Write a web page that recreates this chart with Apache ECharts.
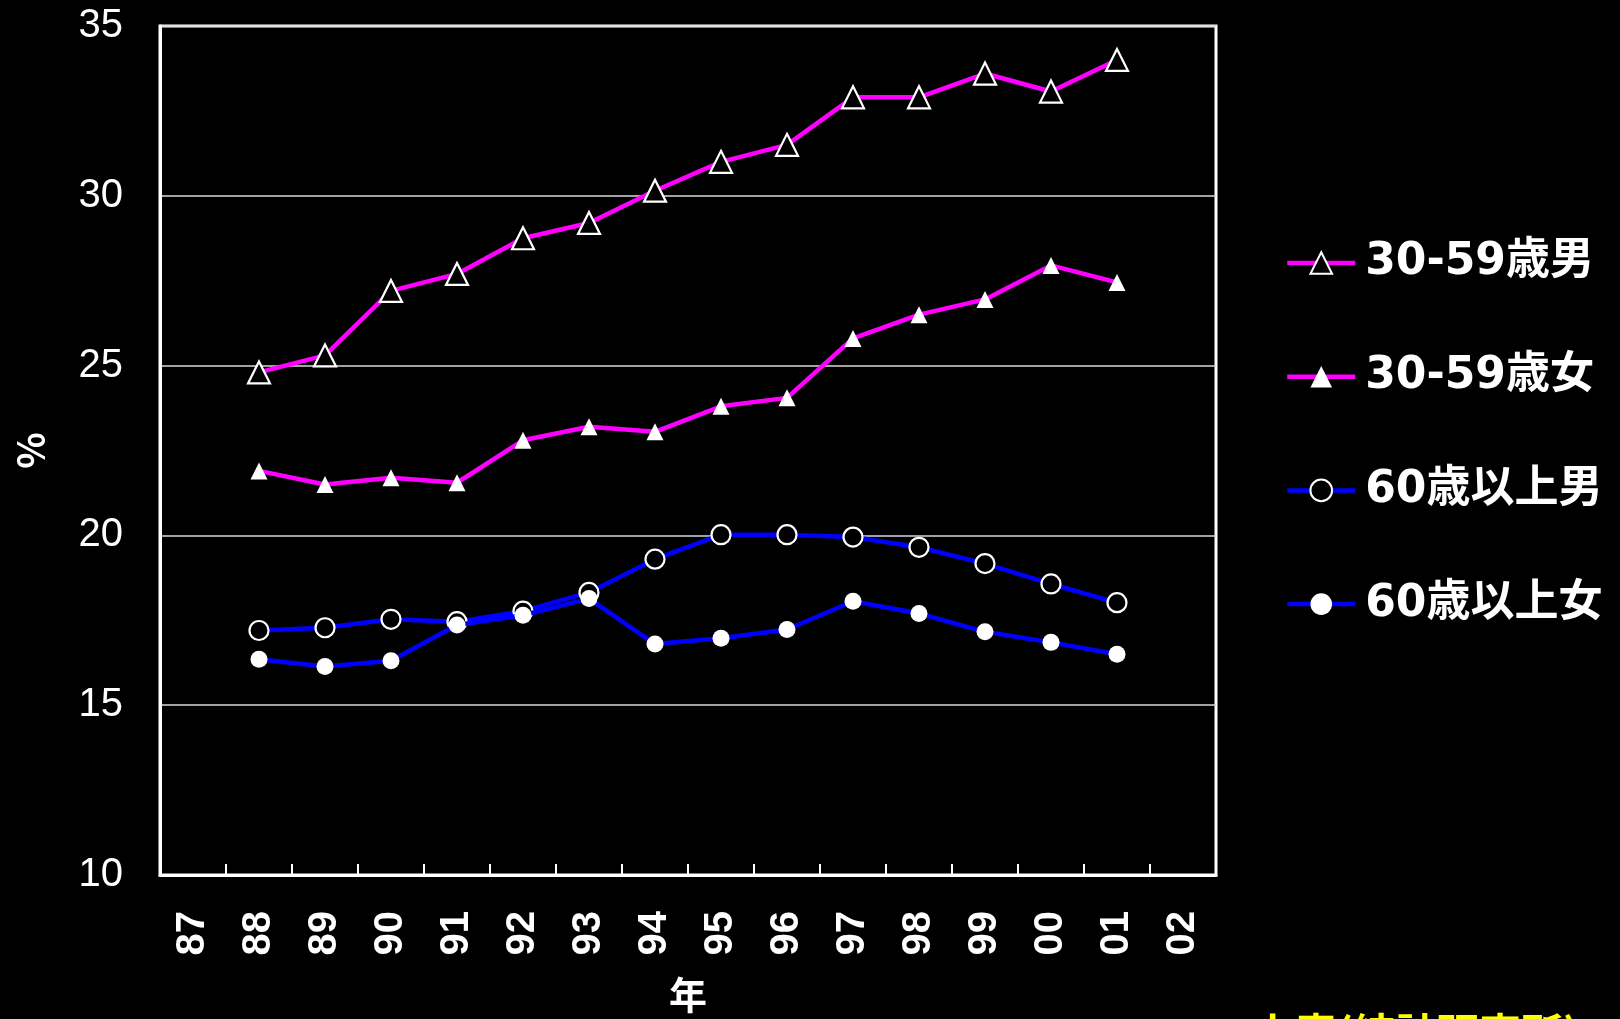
<!DOCTYPE html>
<html>
<head>
<meta charset="utf-8">
<title>年齢・性別の推移</title>
<script src="https://cdn.jsdelivr.net/npm/echarts@6/dist/echarts.min.js"></script>
<style>
  html, body { margin: 0; padding: 0; background: #000; }
  #chart { width: 1620px; height: 1019px; }
</style>
</head>
<body>
<div id="chart"></div>
<script>
// Years on the category axis (two-digit labels, 1987–2002)
const years = ['87','88','89','90','91','92','93','94','95','96','97','98','99','00','01','02'];

// Percentages per group; no survey value for 87 and 02
const male3059   = [null, 24.8, 25.3, 27.2, 27.7, 28.75, 29.2, 30.15, 31.0, 31.5, 32.9, 32.9, 33.6, 33.07, 34.0, null];
const female3059 = [null, 21.9, 21.5, 21.7, 21.55, 22.8, 23.2, 23.05, 23.8, 24.05, 25.8, 26.5, 26.95, 27.95, 27.45, null];
const male60     = [null, 17.2, 17.28, 17.53, 17.46, 17.77, 18.32, 19.3, 20.02, 20.02, 19.95, 19.65, 19.17, 18.57, 18.02, null];
const female60   = [null, 16.35, 16.14, 16.31, 17.36, 17.65, 18.14, 16.8, 16.97, 17.23, 18.06, 17.7, 17.16, 16.85, 16.5, null];

const seriesNames = ['30-59歳男', '30-59歳女', '60歳以上男', '60歳以上女'];
const yTicks = { min: 10, max: 35, step: 5 };

const MAGENTA = '#ff00ff';
const BLUE = '#0000ff';
const WHITE = '#ffffff';

function lineSeries(name, data, color, symbol, size, hollow) {
  return {
    name: name,
    type: 'line',
    data: data,
    color: color,
    symbol: symbol,
    symbolSize: size,
    connectNulls: false,
    z: hollow ? 3 : 4,
    lineStyle: { color: color, width: 4.5 },
    itemStyle: hollow
      ? { color: '#000', borderColor: WHITE, borderWidth: 2.2 }
      : { color: WHITE, borderWidth: 0 },
    emphasis: { disabled: true },
    animation: false
  };
}

const chart = echarts.init(document.getElementById('chart'), null, { renderer: 'canvas' });

chart.setOption({
  backgroundColor: '#000',
  animation: false,
  grid: {
    left: 160, right: 404, top: 26, bottom: 142,
    show: true, borderColor: WHITE, borderWidth: 3, backgroundColor: 'transparent'
  },
  legend: {
    orient: 'vertical',
    left: 1285,
    top: 230,
    padding: 0,
    itemWidth: 68,
    itemHeight: 27,
    itemGap: 47.7,
    selectedMode: false,
    lineStyle: { width: 4.5 },
    textStyle: {
      color: WHITE,
      fontSize: 44,
      fontWeight: 'bold',
      lineHeight: 50,
      padding: [16, 0, 0, 5],
      fontFamily: "'DejaVu Sans', 'Noto Sans CJK JP', sans-serif"
    },
    data: seriesNames
  },
  xAxis: {
    type: 'category',
    data: years,
    boundaryGap: true,
    name: '年',
    nameLocation: 'middle',
    nameGap: 101,
    nameTextStyle: {
      color: WHITE, fontSize: 38, fontWeight: 'bold',
      fontFamily: "'Noto Sans CJK JP', sans-serif"
    },
    axisLine: { lineStyle: { color: WHITE, width: 3 } },
    axisTick: { show: true, inside: true, length: 11, lineStyle: { color: WHITE, width: 2 } },
    axisLabel: {
      color: WHITE, rotate: 90, margin: 36,
      fontSize: 40, fontWeight: 'bold',
      fontFamily: "'Liberation Sans', Arial, sans-serif"
    },
    splitLine: { show: false }
  },
  yAxis: {
    type: 'value',
    min: yTicks.min,
    max: yTicks.max,
    interval: yTicks.step,
    name: '%',
    nameLocation: 'middle',
    nameGap: 110,
    nameTextStyle: {
      color: WHITE, fontSize: 38, fontWeight: 'bold',
      fontFamily: "'Noto Sans CJK JP', sans-serif"
    },
    axisLine: { show: true, lineStyle: { color: WHITE, width: 3 } },
    axisTick: { show: false },
    axisLabel: {
      color: WHITE, margin: 37, fontSize: 40,
      fontFamily: "'Liberation Sans', Arial, sans-serif"
    },
    splitLine: { show: true, lineStyle: { color: '#d8d8d8', width: 1.5 } }
  },
  series: [
    lineSeries(seriesNames[0], male3059, MAGENTA, 'triangle', 22, true),
    lineSeries(seriesNames[1], female3059, MAGENTA, 'triangle', 17, false),
    lineSeries(seriesNames[2], male60, BLUE, 'circle', 19, true),
    lineSeries(seriesNames[3], female60, BLUE, 'circle', 17, false)
  ],
  graphic: [
    {
      type: 'text',
      left: 1253,
      top: 1012,
      silent: true,
      style: {
        text: '上表(統計研究所)',
        fill: '#ffff00',
        fontSize: 42,
        fontWeight: 'bold',
        fontFamily: "'Noto Sans CJK JP', sans-serif"
      }
    }
  ]
});
</script>
</body>
</html>
